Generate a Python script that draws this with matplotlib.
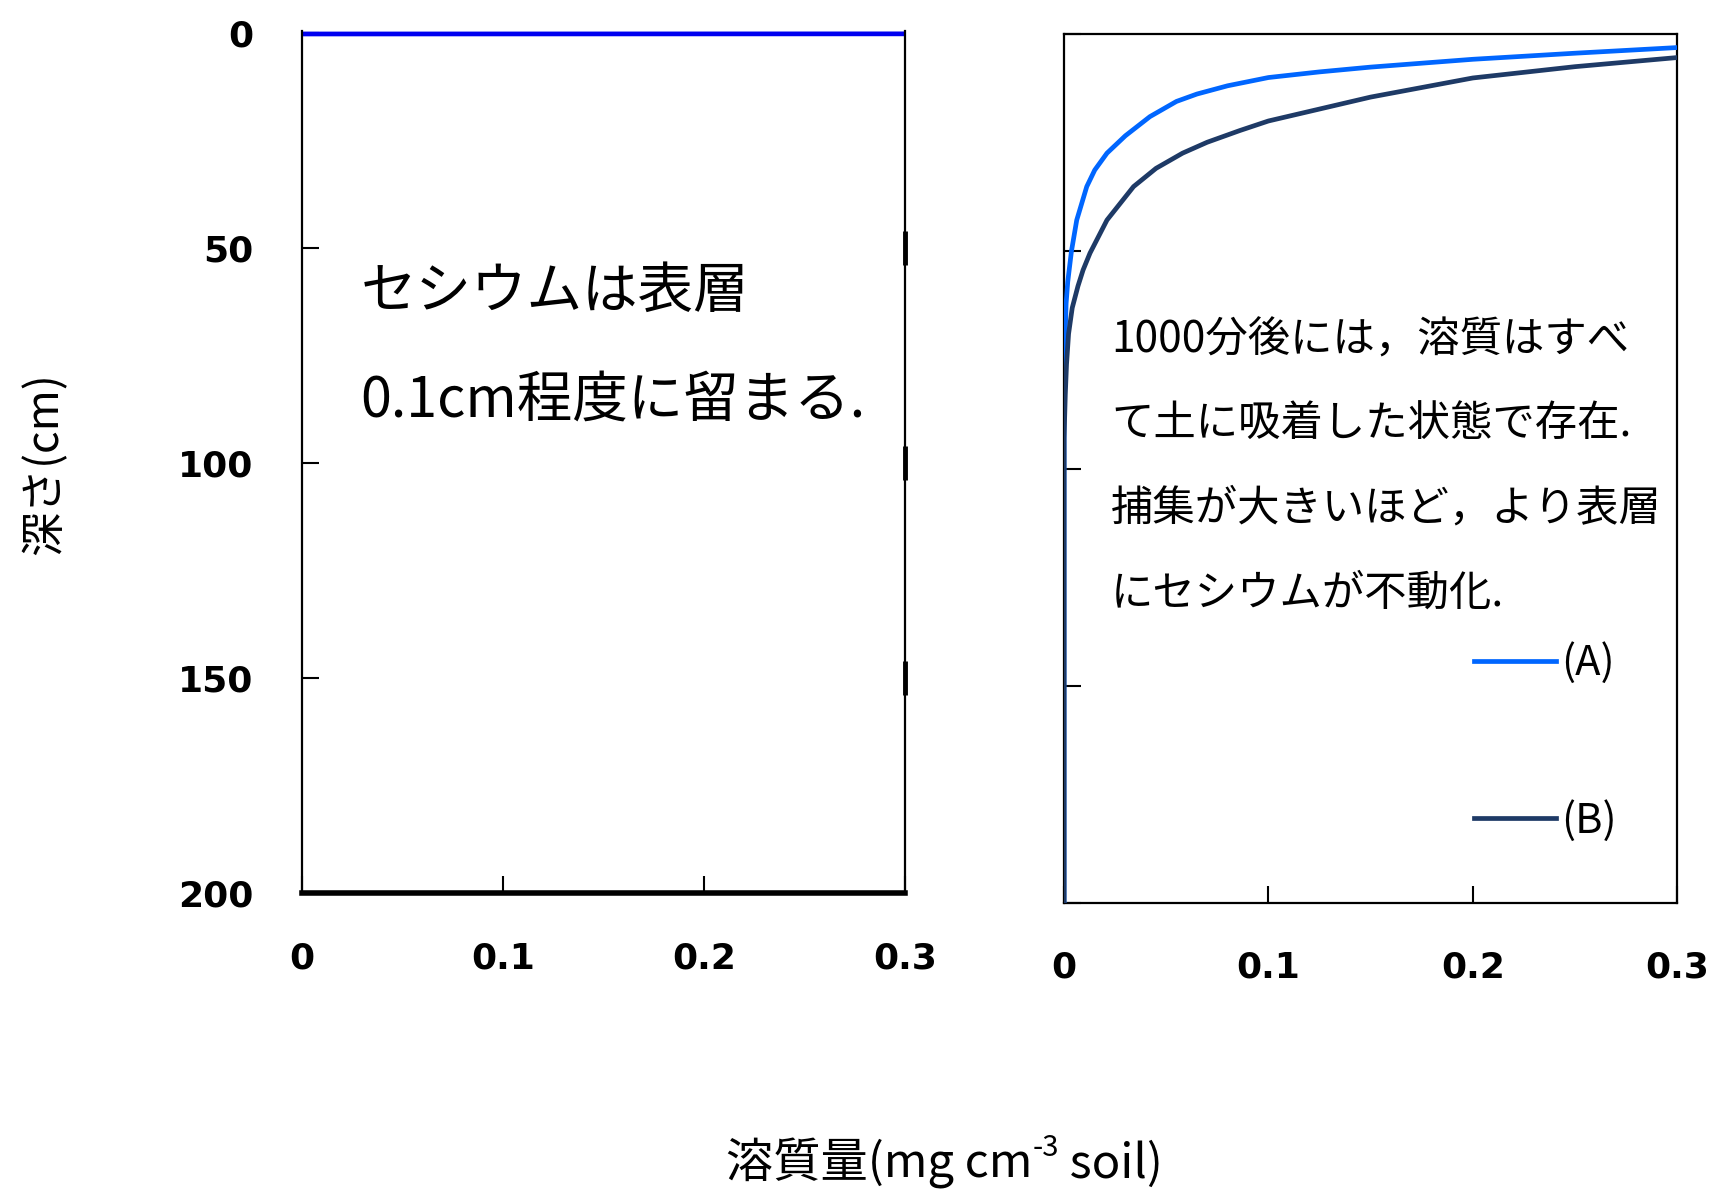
import matplotlib
matplotlib.use("Agg")
import matplotlib.pyplot as plt

plt.rcParams['font.family'] = ['Noto Sans CJK JP', 'DejaVu Sans']

# concentration profiles (mg cm-3 soil) against depth (cm)
depth_ticks = [0, 50, 100, 150, 200]
conc_ticks = [0, 0.1, 0.2, 0.3]
conc_ticklabels = ['0', '0.1', '0.2', '0.3']

# left panel: cesium held within ~0.1 cm of the surface
left_conc = [5.0, 2.0, 0.5, 0.0]
left_depth = [0.0, 0.05, 0.1, 0.15]

# right panel: after 1000 min, case (A) and case (B)
conc_a = [0.35, 0.3, 0.25, 0.2, 0.15, 0.125, 0.1, 0.08, 0.065, 0.055, 0.042,
          0.030, 0.021, 0.015, 0.0111, 0.0062, 0.0036, 0.0018, 0.001, 0.0005,
          0.0002, 0.0, 0.0]
depth_a = [2.4, 3.1, 4.4, 5.8, 7.6, 8.7, 10.0, 11.9, 13.8, 15.5, 19.0,
           23.4, 27.4, 31.3, 35.1, 42.8, 50.0, 57.0, 62.0, 70.0,
           77.0, 81.0, 200.0]
conc_b = [0.35, 0.3, 0.25, 0.2, 0.15, 0.1, 0.086, 0.07, 0.058, 0.045, 0.034,
          0.021, 0.0127, 0.0093, 0.0068, 0.004, 0.0022, 0.0012, 0.0006, 0.0, 0.0]
depth_b = [4.0, 5.4, 7.5, 10.1, 14.5, 20.0, 22.2, 24.9, 27.4, 30.9, 35.1,
           42.8, 50.4, 54.3, 58.0, 63.0, 69.0, 76.0, 83.0, 93.0, 200.0]

left_note = ['セシウムは表層', '0.1cm程度に留まる.']
right_note = ['1000分後には，溶質はすべ', 'て土に吸着した状態で存在.',
              '捕集が大きいほど，より表層', 'にセシウムが不動化.']

BLUE_LEFT = '#0000F0'
BLUE_A = '#0066FF'
NAVY_B = '#1E3A66'

fig = plt.figure(figsize=(17.11, 11.92), dpi=100)
ax1 = fig.add_axes([0.1765, 0.2510, 0.3524, 0.7232])
ax2 = fig.add_axes([0.6219, 0.2424, 0.3583, 0.7290])

tick_font = dict(family='DejaVu Sans', weight='bold', size=26)

for ax in (ax1, ax2):
    ax.set_xlim(0, 0.3)
    ax.set_xticks(conc_ticks)
    ax.set_xticklabels(conc_ticklabels, fontdict=tick_font)
    ax.tick_params(axis='both', direction='in', length=12, width=1.5, color='black')

# left panel
ax1.set_ylim(200, -0.6)
ax1.set_yticks(depth_ticks)
ax1.set_yticklabels([str(d) for d in depth_ticks], fontdict=tick_font)
ax1.tick_params(axis='x', pad=35)
ax1.tick_params(axis='y', pad=35)
ax1.plot(left_conc, left_depth, color=BLUE_LEFT, lw=3.4, zorder=2)
ax1.spines['top'].set_visible(False)
ax1.spines['bottom'].set_linewidth(4)
ax1.spines['left'].set_linewidth(1.6)
ax1.spines['right'].set_linewidth(1.6)
# short heavy marks on the right frame at the inner depth ticks
inner = [d for d in depth_ticks if 0 < d < 200]
ax1.plot([0.3] * len(inner), inner, ls='none', marker='|', markersize=24,
         mew=3.5, color='black', clip_on=False, zorder=4)
for i, line in enumerate(left_note):
    ax1.text(0.029, 60.1 + i * 25.5, line, fontsize=40, va='center', ha='left')

# right panel
ax2.set_ylim(200, 0)
ax2.set_yticks(depth_ticks)
ax2.set_yticklabels([])
ax2.tick_params(axis='x', pad=34)
for sp in ax2.spines.values():
    sp.set_linewidth(1.6)
ax2.plot(conc_a, depth_a, color=BLUE_A, lw=3.4, zorder=2.8, label='(A)')
ax2.plot(conc_b, depth_b, color=NAVY_B, lw=3.4, zorder=3, label='(B)')
for i, line in enumerate(right_note):
    ax2.text(0.023, 70.5 + i * 19.4, line, fontsize=30.5, va='center', ha='left')
ax2.legend(loc='upper left', bbox_to_anchor=(0.668, 0.30), frameon=False,
           fontsize=30, handlelength=1.97, handletextpad=0.12, labelspacing=2.78,
           borderpad=0, borderaxespad=0)

fig.text(0.026, 0.611, '深さ(cm)', rotation=90, fontsize=32, ha='center', va='center')

# x label with a raised "-3"
renderer = fig.canvas.get_renderer()
pieces = [('溶質量(mg cm', 34, 0.0), ('-3', 21, 0.018), (' soil)', 34, 0.0)]
texts, widths = [], []
for s, size, rise in pieces:
    t = fig.text(0, 0.012 + rise, s, fontsize=size, ha='left', va='baseline')
    texts.append(t)
    widths.append(t.get_window_extent(renderer).width / fig.bbox.width)
x = 0.552 - sum(widths) / 2
for t, w in zip(texts, widths):
    t.set_x(x)
    x += w

fig.savefig('out.png', dpi=100)
